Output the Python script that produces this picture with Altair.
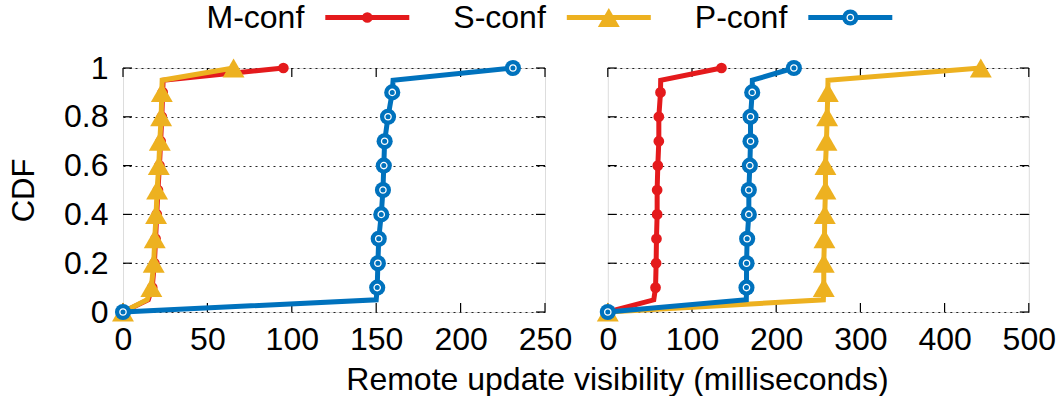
import altair as alt
import pandas as pd

FONT = "Liberation Sans"
FS = 32
FS_Y = 31

series_names = ["M-conf", "S-conf", "P-conf"]
colors = ["#E41A1C", "#EDB120", "#0072BD"]

cdf_levels = [0, 0.05, 0.1, 0.2, 0.3, 0.4, 0.5, 0.6, 0.7, 0.8, 0.9, 0.95, 1.0]
has_marker = [True, False, True, True, True, True, True, True, True, True, True, False, True]

# left panel (milliseconds)
left_m = [0, 15.0, 17.3, 18.6, 19.3, 20.0, 20.7, 21.6, 22.3, 23.0, 23.5, 23.8, 95]
left_s = [0, 14.3, 16.8, 18.2, 18.8, 19.6, 20.2, 21.2, 21.8, 22.6, 23.0, 23.2, 65.5]
left_p = [0, 150.0, 150.6, 151.0, 151.5, 153.0, 154.0, 154.5, 155.0, 157.0, 159.5, 160.0, 231]

# right panel (milliseconds)
right_m = [0, 54.6, 56.7, 57.4, 57.8, 58.6, 58.6, 59.4, 60.6, 60.6, 62.6, 62.8, 135]
right_s = [0, 256.0, 256.5, 256.5, 257.3, 257.7, 258.5, 258.5, 259.7, 260.5, 261.3, 261.5, 443]
right_p = [0, 164.5, 164.7, 164.8, 165.5, 167.5, 167.5, 168.7, 169.5, 169.5, 171.5, 171.7, 221]

x_ticks_left = [0, 50, 100, 150, 200, 250]
x_ticks_right = [0, 100, 200, 300, 400, 500]
y_ticks = [0, 0.2, 0.4, 0.6, 0.8, 1.0]

x_title = "Remote update  visibility (milliseconds)"
y_title = "CDF"

W_L, W_R, H = 422, 421, 244
TICK_LEN = 9


def make_df(m, s, p):
    rows = []
    for name, vals in zip(series_names, [m, s, p]):
        for i, (v, c, mk) in enumerate(zip(vals, cdf_levels, has_marker)):
            rows.append({"series": name, "value": v, "cdf": c, "idx": i, "marker": mk})
    return pd.DataFrame(rows)


def marker_styles(name, color):
    if name == "M-conf":
        return [dict(shape="circle", filled=True, size=115, color=color, opacity=1)]
    if name == "S-conf":
        return [dict(shape="triangle-up", filled=True, size=480, color=color, opacity=1)]
    return [dict(shape="circle", filled=True, size=260, color=color, opacity=1),
            dict(shape="circle", filled=False, size=40, color="white", strokeWidth=1.3, opacity=1)]


def panel(df, domain_max, xticks, width, show_y_labels, show_x_title):
    xscale = alt.Scale(domain=[0, domain_max], nice=False, zero=False)
    yscale = alt.Scale(domain=[0, 1], nice=False)
    xaxis_kw = dict(values=xticks, labelFontSize=FS, labelFont=FONT, labelColor="black",
                    labelPadding=12, ticks=False, tickSize=0, domain=False, grid=False,
                    labelFlush=False, labelOverlap=False)
    if show_x_title:
        xaxis_kw.update(titleX=494, titleY=77, titleAlign="center", titleBaseline="alphabetic",
                        titleFontSize=FS, titleFont=FONT, titleFontWeight="normal", titleColor="black")
        xaxis = alt.Axis(title=x_title, **xaxis_kw)
    else:
        xaxis = alt.Axis(title=None, **xaxis_kw)
    yaxis_kw = dict(values=y_ticks, format="~g", labelFontSize=FS, labelFont=FONT, labelColor="black",
                    labelPadding=15, ticks=False, tickSize=0, domain=False, grid=True,
                    gridDash=[2, 4], gridColor="#222222", gridWidth=1.1, labels=show_y_labels)
    if show_y_labels:
        yaxis = alt.Axis(title=y_title, titleAngle=270, titleX=-89.7, titleY=H / 2,
                         titleAlign="center", titleBaseline="alphabetic", titleFontSize=FS_Y,
                         titleFont=FONT, titleFontWeight="normal", titleColor="black", **yaxis_kw)
    else:
        yaxis = alt.Axis(title=None, **yaxis_kw)

    X = lambda f: alt.X(f, scale=xscale, axis=xaxis)
    Y = lambda f: alt.Y(f, scale=yscale, axis=yaxis)

    xt = pd.DataFrame({"tick": xticks})
    yt = pd.DataFrame({"tick": y_ticks})
    layers = [
        alt.Chart(xt).mark_rule(color="black", strokeWidth=1.2).encode(
            x=X("tick:Q"), y=alt.value(H), y2=alt.value(H - TICK_LEN)),
        alt.Chart(xt).mark_rule(color="black", strokeWidth=1.2).encode(
            x=X("tick:Q"), y=alt.value(0), y2=alt.value(TICK_LEN)),
        alt.Chart(yt).mark_rule(color="black", strokeWidth=1.2).encode(
            y=Y("tick:Q"), x=alt.value(0), x2=alt.value(TICK_LEN)),
        alt.Chart(yt).mark_rule(color="black", strokeWidth=1.2).encode(
            y=Y("tick:Q"), x=alt.value(width), x2=alt.value(width - TICK_LEN)),
    ]
    for name, color in zip(series_names, colors):
        d = df[df["series"] == name]
        layers.append(alt.Chart(d).mark_line(color=color, strokeWidth=5).encode(
            x=X("value:Q"), y=Y("cdf:Q"), order="idx:Q"))
        dm = d[d["marker"]]
        for st in marker_styles(name, color):
            layers.append(alt.Chart(dm).mark_point(**st).encode(x=X("value:Q"), y=Y("cdf:Q")))
    return alt.layer(*layers).properties(width=width, height=H)


left = panel(make_df(left_m, left_s, left_p), 250, x_ticks_left, W_L, True, True)
right = panel(make_df(right_m, right_s, right_p), 500, x_ticks_right, W_R, False, False)

# legend
leg_df = pd.DataFrame({"series": series_names})
LX = alt.X("series:N", scale=alt.Scale(type="point", domain=series_names, range=[244.3, 727.3],
                                       padding=0), axis=None)
leg_layers = [
    alt.Chart(leg_df).mark_text(align="right", baseline="alphabetic", dx=-63, fontSize=FS,
                                font=FONT, color="black").encode(x=LX, y=alt.value(27), text="series:N"),
]
for name, color in zip(series_names, colors):
    d = leg_df[leg_df["series"] == name]
    leg_layers.append(alt.Chart(d).mark_rule(color=color, strokeWidth=5, xOffset=-42, x2Offset=42).encode(
        x=LX, x2="series:N", y=alt.value(16.5)))
    for st in marker_styles(name, color):
        leg_layers.append(alt.Chart(d).mark_point(**st).encode(x=LX, y=alt.value(16.5)))
legend = alt.layer(*leg_layers).properties(width=906, height=30,
                                           view=alt.ViewBackground(stroke="transparent"))

panels = alt.hconcat(left, right, spacing=62.8, bounds="flush")
chart = alt.vconcat(legend, panels, spacing=37, bounds="flush").properties(
    padding={"left": 7, "top": 0, "right": 0, "bottom": 0}
).configure_view(stroke="black", strokeWidth=1.5).configure(background="white", font=FONT)

chart.save("out.html", embed_options={"renderer": "svg", "actions": False})
